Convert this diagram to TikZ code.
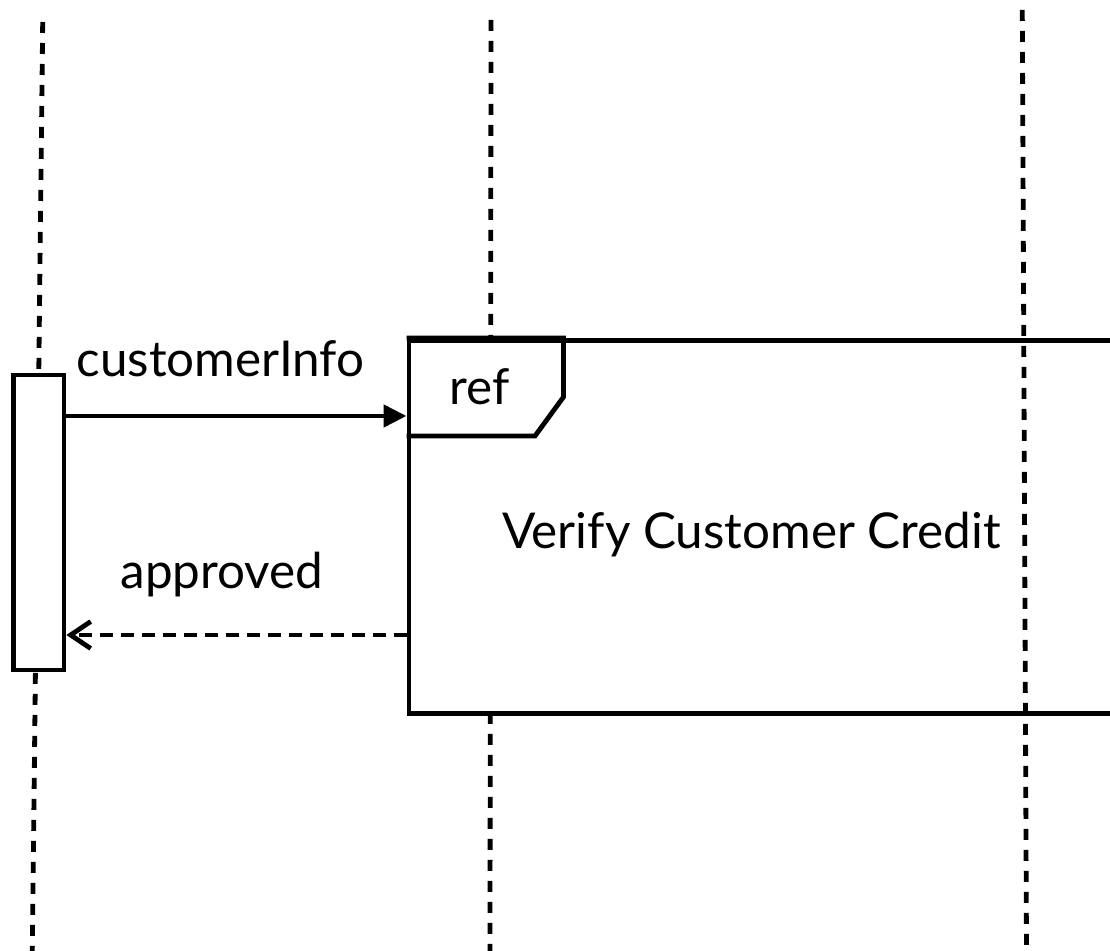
\documentclass[tikz,border=0pt]{standalone}
\usepackage{fontspec}
\setsansfont{Lato}
\tikzset{every picture/.style={/utils/exec={\sffamily}}}
\usetikzlibrary{calc}
\usetikzlibrary{positioning}
\usetikzlibrary{arrows.meta}

\begin{document}
\begin{tikzpicture}[x=0.5pt, y=-0.5pt, line width=2.4pt,
    lifeline/.style={dash pattern=on 5.5pt off 5pt},
    activation/.style={draw, fill=white, minimum width=25.25pt, minimum height=147.5pt, inner sep=0pt},
    msgtext/.style={font=\fontsize{24.7}{29}\selectfont, inner sep=0pt, anchor=base},
    call/.style={-{Triangle[length=11.5pt, width=11pt]}},
    reply/.style={-{Straight Barb[length=10pt, width=13.5pt]}, dash pattern=on 6.5pt off 4pt}]
  \useasboundingbox (0,0) rectangle (1110,951);
  \clip (0,0) rectangle (1110,951);

  % lifelines
  \foreach \name/\xtop/\ytop/\xbot in {client/42.7/22/32.3,order/491/20/490,credit/1022.3/10/1026.5} {
    \coordinate (\name-top) at (\xtop,\ytop);
    \coordinate (\name-bottom) at (\xbot,951);
  }
  \draw[lifeline] (client-top) -- (client-bottom);
  \draw[lifeline] (order-top) -- (order-bottom);

  % interaction use
  \node (frame) [draw, fill=white, anchor=north west, minimum width=380pt, minimum height=186.5pt, inner sep=0pt] at (406.5,338) {};
  \draw (frame.north west) -- ++(157,0) coordinate (tab-ne) -- ++(0,59) -- (535,436) -- (frame.west |- 0,436);
  \node (ref) [msgtext] at (480,405) {ref};
  \node (usage) [msgtext] at (751.5,549) {Verify Customer Credit};
  \draw[lifeline] (credit-top) -- (credit-bottom);

  % activation
  \node (act) [activation] at (38.75,522.5) {};

  % messages
  \draw[call] (act.east |- 0,416) -- (frame.west |- 0,416);
  \node (info) [msgtext] at (220.5,377) {customerInfo};
  \draw[reply] (frame.west |- 0,635) -- (act.east |- 0,635);
  \node (approved) [msgtext] at (222,589) {approved};
\end{tikzpicture}
\end{document}
